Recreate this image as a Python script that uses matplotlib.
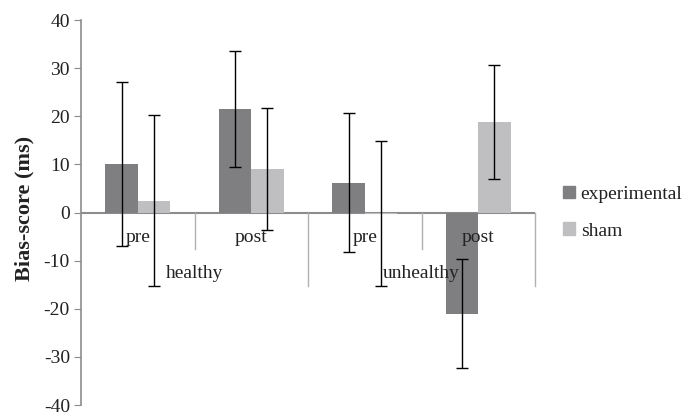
import numpy as np
import matplotlib.pyplot as plt
from matplotlib.patches import Patch

plt.rcParams['font.family'] = ['Liberation Serif', 'DejaVu Serif']
plt.rcParams['axes.unicode_minus'] = False

# data
conditions = ["pre", "post", "pre", "post"]
groups = ["healthy", "unhealthy"]
experimental = [10.1, 21.5, 6.2, -21.0]
experimental_err = [17.0, 12.1, 14.4, 11.4]
sham = [2.5, 9.0, -0.2, 18.8]
sham_err = [17.7, 12.7, 15.0, 11.9]

c_exp = '#7f7f82'
c_sham = '#bfbfc2'
axis_col = '#8c8c8c'
txt_col = '#222222'
fs = 14

fig = plt.figure(figsize=(6.96, 4.18), dpi=100)
ax = fig.add_axes([0.1164, 0.031, 0.6523, 0.921])

x = np.arange(len(conditions)) + 0.5
w = 0.285
err_kw = dict(ecolor='black', elinewidth=1.0, capsize=4, capthick=1.0)
ax.bar(x - w / 2, experimental, w, yerr=experimental_err, color=c_exp,
       error_kw=err_kw, zorder=2)
ax.bar(x + w / 2, sham, w, yerr=sham_err, color=c_sham,
       error_kw=err_kw, zorder=2)

ax.set_xlim(0, len(conditions))
ax.set_ylim(-40, 40)
ax.set_yticks(np.arange(-40, 41, 10))
ax.tick_params(axis='y', direction='out', length=5, color=axis_col,
               labelsize=fs, labelcolor=txt_col, pad=3)
ax.set_xticks([])
for s in ['top', 'right', 'bottom']:
    ax.spines[s].set_visible(False)
ax.spines['left'].set_color(axis_col)
ax.spines['left'].set_linewidth(1.2)

# zero line and category separators
ax.axhline(0, color=axis_col, lw=1.5, zorder=1)
for b in range(1, len(conditions) + 1):
    low = -15.2 if b % 2 == 0 else -7.5
    ax.plot([b, b], [0, low], color='#b0b0b0', lw=1.0, zorder=1,
            clip_on=False)

for xi, lab in zip(x, conditions):
    ax.text(xi, -5.2, lab, ha='center', va='center', fontsize=fs,
            color=txt_col, zorder=3)
for gi, g in enumerate(groups):
    ax.text(2 * gi + 1, -12.7, g, ha='center', va='center', fontsize=fs,
            color=txt_col, zorder=3)

ax.set_ylabel("Bias-score (ms)", fontsize=16, fontweight='bold',
              color=txt_col, labelpad=5)
ax.yaxis.set_label_coords(-0.102, 0.511)

handles = [Patch(color=c_exp), Patch(color=c_sham)]
fig.legend(handles, ["experimental", "sham"], loc='center left',
           bbox_to_anchor=(0.784, 0.491), frameon=False,
           prop={'family': 'Liberation Serif', 'size': fs},
           handlelength=0.6, handleheight=0.6, handletextpad=0.3,
           labelspacing=1.0, labelcolor=txt_col)

fig.savefig("out.png", dpi=100)
